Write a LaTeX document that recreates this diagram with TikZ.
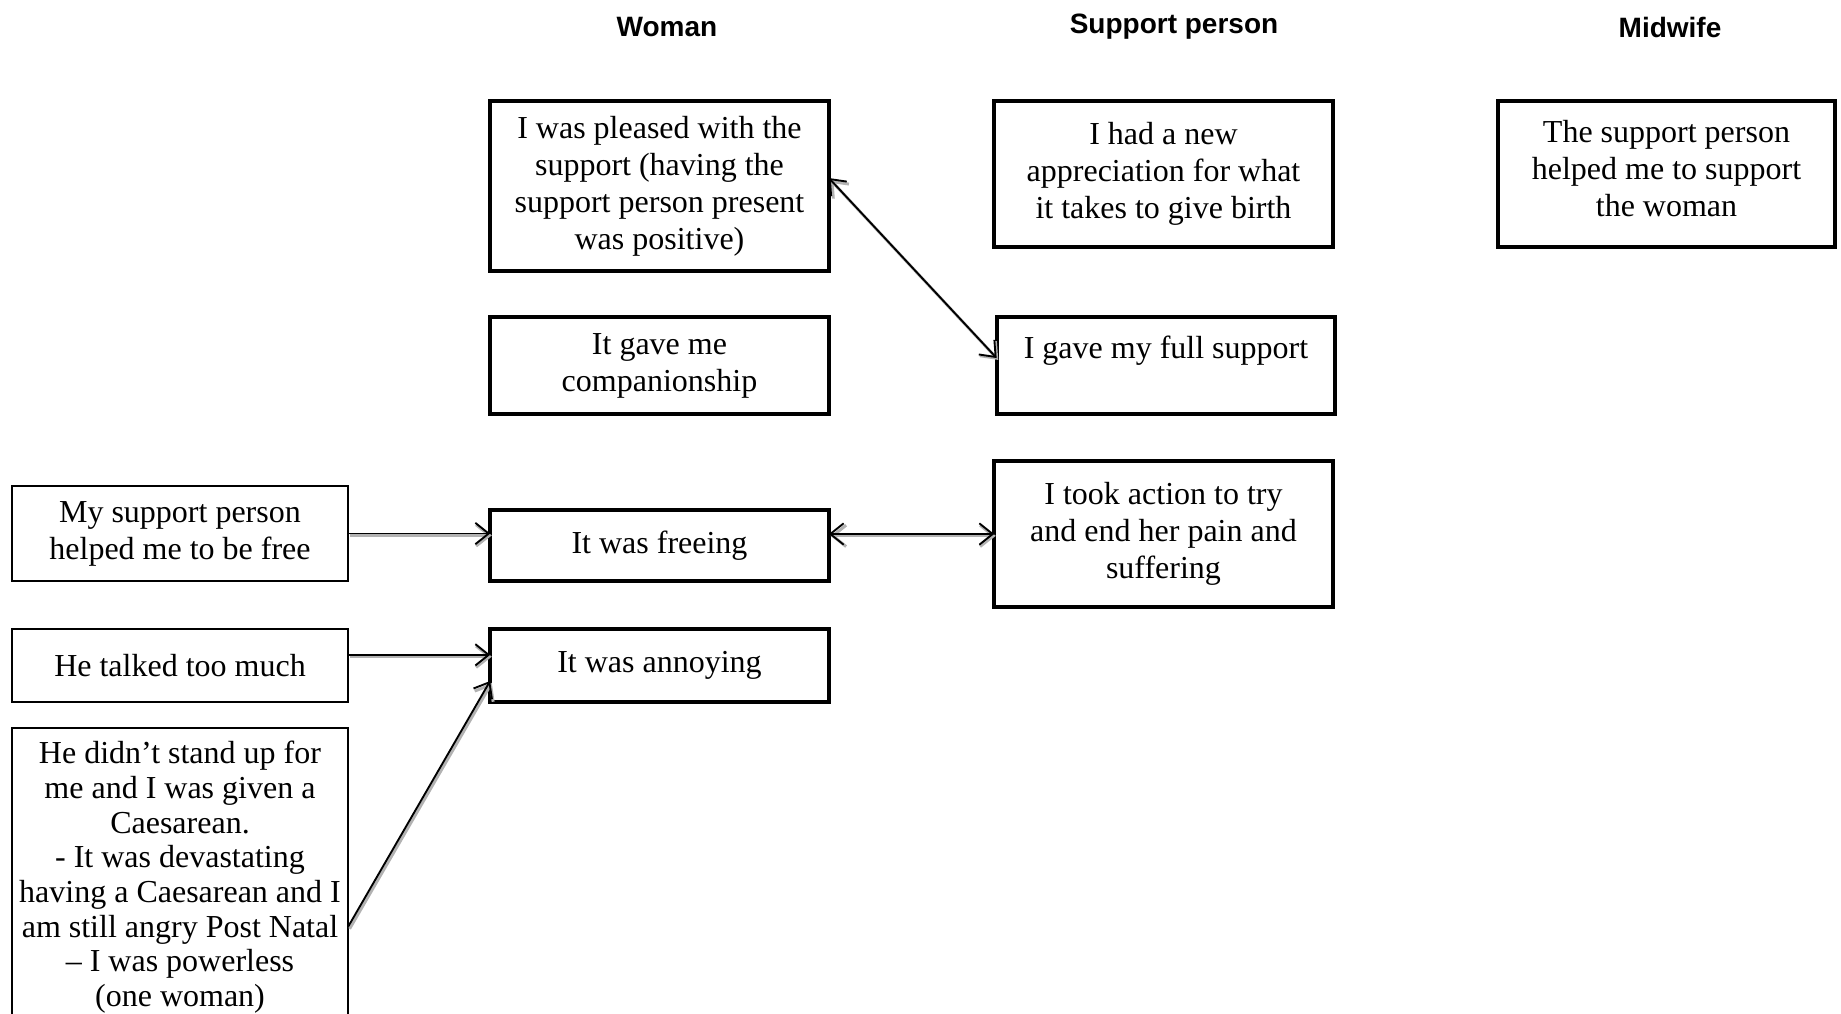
\documentclass[tikz,border=0pt]{standalone}
\usepackage{fontspec}
\setmainfont{Liberation Serif}
\newfontfamily\headfont{Liberation Sans}
\usetikzlibrary{arrows.meta}
\begin{document}
\begin{tikzpicture}[x=0.375pt,y=-0.375pt,inner sep=2pt,outer sep=0pt,
font=\fontsize{12}{13.9}\selectfont,
heading/.style={font=\headfont\bfseries\fontsize{10.5}{12}\selectfont},
mainbox/.style={draw,rectangle,line width=1.4pt,align=center,minimum width=127pt},
sidebox/.style={draw,rectangle,line width=0.6pt,align=center,minimum width=126pt},
link/.style={line width=0.7pt,-{Straight Barb[length=5pt,width=8pt]},
  preaction={draw=black!30,line width=1.1pt,transform canvas={shift={(0.6pt,-0.7pt)}}}},
both/.style={link,{Straight Barb[length=5pt,width=8pt]}-{Straight Barb[length=5pt,width=8pt]}}]
\useasboundingbox (0,0) rectangle (1841,1013);
\draw (667,27) node[heading] (hwoman) {Woman};
\draw (1174,27) node[heading] (hsupport) {Support person};
\draw (1670,27) node[heading] (hmidwife) {Midwife};
\draw (659.5,186) node[mainbox,minimum height=63.75pt] (pleased) {I was pleased with the\\support (having the\\support person present\\was positive)};
\draw (659.5,365.5) node[mainbox,minimum height=36.4pt] (company) {It gave me\\companionship};
\draw (659.5,545.5) node[mainbox,minimum height=26.6pt] (freeing) {It was freeing};
\draw (659.5,665.5) node[mainbox,minimum height=27.4pt] (annoying) {It was annoying};
\draw (1163.5,174) node[mainbox,minimum height=54.75pt] (apprec) {I had a new\\appreciation for what\\it takes to give birth};
\draw (1166,365.5) node[mainbox,minimum height=36.4pt,text depth=14pt] (fullsup) {I gave my full support};
\draw (1163.5,534) node[mainbox,minimum height=54.75pt] (action) {I took action to try\\and end her pain and\\suffering};
\draw (1666.5,174) node[mainbox,minimum height=54.75pt,minimum width=126.4pt,text depth=4pt] (helped) {The support person\\helped me to support\\the woman};
\draw (180,533.5) node[sidebox,minimum height=35.6pt] (mysup) {My support person\\helped me to be free};
\draw (180,665.5) node[sidebox,minimum height=27.4pt] (talked) {He talked too much};
\draw (180,728) node[sidebox,anchor=north,minimum height=112pt,font=\fontsize{12}{13}\selectfont] (stand) {He didn’t stand up for\\me and I was given a\\Caesarean.\\- It was devastating\\having a Caesarean and I\\am still angry Post Natal\\-- I was powerless\\(one woman)};
\draw[link] (mysup.east) -- (freeing.west |- mysup.east);
\draw[both] (freeing.east |- action.west) -- (action.west);
\draw[link] ([yshift=4pt]talked.east) -- ([yshift=4pt]annoying.west);
\draw[link] ([yshift=-74.6pt]stand.north east) -- ([yshift=7.9pt]annoying.south west);
\draw[both] ([yshift=3pt]pleased.east) -- ([yshift=2.8pt]fullsup.west);
\end{tikzpicture}
\end{document}
